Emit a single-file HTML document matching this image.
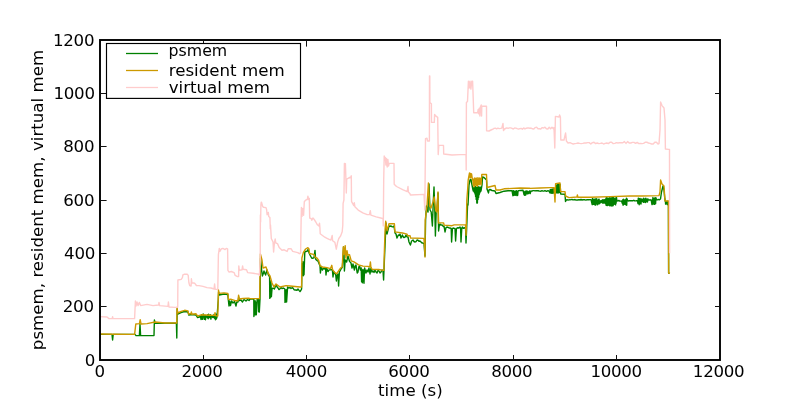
<!DOCTYPE html>
<html><head><meta charset="utf-8"><title>memory usage</title>
<style>html,body{margin:0;padding:0;background:#fff}svg{display:block}</style></head>
<body>
<svg width="800" height="400" viewBox="0 0 800 400">
<rect width="800" height="400" fill="#fff"/>
<g fill="none" stroke-linejoin="round" stroke-width="1.4">
<path stroke="#008000" d="M100.0 334.4 L112.0 334.4 L112.6 340.0 L113.2 334.4 L135.0 334.4 L136.0 335.6 L139.4 335.6 L140.0 324.0 L140.6 335.6 L154.0 335.6 L154.4 320.0 L155.0 323.0 L165.0 323.2 L176.0 323.2 L176.4 323.2 L176.8 338.0 L177.2 309.0 L177.8 314.0 L181.0 312.5 L184.6 311.5 L188.0 312.0 L188.8 315.0 L192.0 314.5 L196.0 315.0 L197.6 317.5 L200.5 316.5 L201.0 319.5 L201.4 314.8 L201.9 319.0 L202.3 316.3 L202.8 319.3 L203.2 313.9 L203.7 316.9 L204.1 315.4 L204.6 319.4 L205.0 315.4 L205.5 319.7 L205.9 315.4 L206.4 316.9 L206.8 316.4 L207.3 317.7 L207.7 314.6 L208.2 318.7 L208.6 314.3 L209.1 317.5 L209.5 315.4 L210.0 317.5 L210.4 314.8 L210.9 319.1 L211.3 316.2 L211.8 316.8 L212.2 316.4 L212.7 317.4 L213.1 316.3 L213.6 317.6 L214.0 314.5 L214.5 318.2 L214.9 314.9 L215.4 319.7 L215.8 313.9 L216.3 319.0 L217.0 317.0 L218.3 300.0 L218.6 292.0 L219.2 295.0 L224.0 294.0 L227.8 294.5 L228.4 300.5 L229.0 306.0 L229.6 301.0 L230.5 305.5 L231.5 301.0 L233.0 303.0 L234.5 301.5 L236.0 306.0 L236.8 302.0 L238.0 302.0 L238.7 297.0 L239.3 300.5 L241.0 300.0 L242.5 302.0 L244.0 299.5 L246.0 301.0 L247.5 299.5 L249.0 300.5 L250.0 299.0 L253.8 299.0 L253.9 316.5 L254.3 301.3 L254.7 314.7 L255.1 300.7 L255.5 314.7 L255.9 302.1 L256.3 314.7 L257.2 299.0 L258.4 299.0 L258.6 311.8 L259.0 299.9 L259.3 312.1 L260.0 299.0 L260.6 258.0 L261.6 270.0 L262.4 276.0 L263.2 273.8 L264.0 271.0 L264.8 273.2 L265.6 275.0 L267.0 270.0 L268.4 275.0 L269.6 277.0 L269.8 298.4 L270.2 280.6 L270.6 297.2 L271.0 282.6 L271.4 296.6 L272.0 289.0 L273.0 288.0 L274.4 289.0 L275.2 287.0 L276.0 285.0 L277.0 286.7 L278.0 288.0 L279.0 289.6 L280.0 288.8 L281.0 287.6 L282.0 288.6 L283.0 288.0 L283.9 288.3 L284.8 289.0 L285.0 302.4 L285.4 290.9 L285.8 301.7 L286.2 289.7 L286.6 302.0 L287.6 287.0 L288.8 288.0 L290.0 287.6 L291.0 288.5 L292.0 287.8 L293.0 288.0 L294.0 289.6 L295.0 290.0 L296.0 290.0 L297.0 290.4 L298.0 289.0 L299.0 290.4 L300.0 291.6 L300.8 290.5 L301.6 289.0 L301.9 271.1 L302.2 263.6 L302.6 272.1 L303.0 261.6 L303.3 275.8 L303.7 263.6 L304.0 274.8 L304.8 252.0 L305.9 251.5 L306.9 251.4 L308.0 249.6 L309.0 252.8 L310.0 255.0 L311.0 256.9 L312.0 258.4 L313.0 258.3 L314.0 257.6 L315.0 250.4 L315.6 259.0 L316.4 260.0 L317.2 260.6 L318.0 261.0 L319.0 263.4 L320.0 266.0 L320.4 273.0 L321.2 266.4 L322.4 270.0 L323.2 268.9 L324.0 268.0 L324.8 269.0 L325.6 268.4 L326.0 275.0 L326.8 268.4 L328.0 271.6 L329.0 270.0 L330.0 269.9 L331.0 269.6 L332.4 270.0 L333.0 277.0 L333.8 271.6 L334.7 273.7 L335.6 274.0 L336.4 281.0 L337.2 275.0 L338.0 274.0 L338.6 286.0 L339.4 272.0 L340.2 270.6 L341.0 269.0 L342.4 267.0 L343.6 247.0 L344.0 252.0 L344.4 271.0 L345.2 260.0 L346.6 262.0 L348.0 256.0 L349.4 261.0 L350.2 262.1 L351.0 263.0 L352.0 268.0 L353.0 264.0 L354.4 270.0 L355.2 266.0 L356.0 265.0 L357.2 273.0 L358.0 272.0 L358.8 267.0 L359.6 266.0 L360.4 270.0 L361.2 268.0 L361.6 281.8 L362.0 270.7 L362.4 282.7 L362.8 269.4 L363.2 281.5 L363.6 270.1 L364.0 283.2 L364.6 268.0 L366.0 273.0 L367.0 270.0 L368.0 272.0 L369.0 268.0 L370.0 274.0 L371.0 268.0 L372.0 272.0 L373.0 271.0 L374.0 272.4 L375.0 270.0 L376.0 272.0 L377.0 273.0 L378.0 270.4 L379.0 271.0 L380.0 273.0 L381.0 272.0 L382.0 270.0 L383.0 271.0 L383.6 280.0 L384.4 260.0 L386.0 223.0 L387.0 234.0 L388.0 230.0 L389.0 226.0 L389.8 226.4 L390.7 226.0 L391.5 226.2 L392.3 226.9 L393.2 226.9 L394.0 226.0 L395.0 233.0 L396.0 234.0 L397.0 238.0 L398.4 235.0 L399.2 235.3 L400.0 234.0 L401.0 238.0 L402.4 235.0 L403.2 236.9 L404.0 237.6 L405.0 237.2 L406.0 235.0 L407.0 236.9 L408.0 237.0 L409.0 242.0 L410.4 245.0 L411.6 241.0 L413.0 240.0 L414.0 241.5 L415.0 242.0 L416.0 241.7 L417.0 240.0 L418.0 240.2 L419.0 241.3 L420.0 241.0 L421.0 242.0 L422.0 243.0 L423.0 243.0 L424.0 243.6 L425.0 256.0 L425.6 220.0 L426.4 206.0 L428.0 212.0 L429.0 184.0 L430.0 210.0 L431.2 212.0 L432.4 226.0 L433.2 204.0 L434.0 187.0 L434.8 210.0 L435.4 236.0 L436.2 212.0 L437.0 210.0 L438.0 193.0 L438.6 231.0 L439.4 225.0 L440.0 224.0 L440.8 225.0 L441.6 224.9 L442.4 225.1 L443.2 226.5 L444.0 226.0 L445.0 232.0 L446.0 227.6 L447.0 227.0 L448.0 227.3 L449.0 228.0 L450.0 228.0 L451.2 228.4 L451.6 242.0 L452.4 229.0 L453.0 228.0 L454.0 228.4 L455.0 228.4 L455.6 241.0 L456.4 229.0 L457.0 228.0 L458.0 227.8 L459.0 228.0 L460.0 227.0 L460.6 228.0 L461.0 242.0 L461.8 228.0 L462.4 227.0 L463.3 228.3 L464.1 227.8 L465.0 228.0 L465.6 229.0 L466.0 243.0 L466.6 230.0 L467.6 204.0 L468.0 205.0 L469.0 185.0 L470.0 180.0 L471.0 179.5 L472.0 185.0 L473.0 190.0 L474.0 189.0 L475.0 190.0 L473.2 191.0 L473.5 187.9 L473.8 191.3 L474.1 187.7 L474.4 192.4 L474.7 187.0 L475.0 193.9 L475.3 186.5 L475.6 196.5 L475.9 187.3 L476.2 199.6 L476.5 187.8 L476.8 203.1 L477.1 186.9 L477.4 203.0 L477.7 187.4 L478.0 199.5 L478.3 186.7 L478.6 197.4 L478.9 187.2 L479.2 194.6 L479.5 187.1 L479.8 192.9 L480.1 187.3 L480.4 191.6 L480.7 187.2 L480.0 190.0 L481.0 191.0 L482.0 185.0 L482.5 177.0 L484.0 177.5 L485.0 178.5 L486.5 180.0 L487.0 189.0 L488.5 193.0 L489.0 190.0 L490.0 189.5 L492.0 190.5 L495.0 191.0 L496.0 193.5 L500.0 192.5 L504.0 191.2 L508.0 190.8 L512.0 190.6 L512.9 195.7 L513.2 190.6 L513.5 194.7 L513.8 190.9 L514.1 195.2 L514.4 191.8 L514.7 195.1 L515.0 191.1 L515.3 195.2 L515.6 191.5 L515.9 194.7 L516.2 190.8 L516.5 195.1 L516.8 191.0 L517.1 195.6 L517.4 191.9 L517.7 195.2 L518.0 191.5 L518.4 190.6 L523.0 190.2 L524.0 194.7 L524.3 191.9 L524.6 195.3 L524.9 191.4 L525.2 195.2 L525.5 191.3 L525.8 194.8 L526.6 191.0 L527.4 193.7 L527.8 191.2 L528.1 193.7 L528.5 191.9 L528.8 193.3 L529.2 191.8 L529.5 192.9 L529.9 190.7 L530.2 193.6 L530.6 191.9 L531.0 191.5 L531.6 191.0 L532.0 191.1 L533.0 190.6 L534.0 190.6 L535.0 190.9 L536.0 190.6 L537.0 190.7 L538.0 190.6 L539.0 191.0 L540.0 191.1 L541.0 191.2 L542.0 190.7 L543.0 191.1 L544.0 191.0 L545.0 190.7 L546.0 191.2 L547.0 191.2 L548.0 190.7 L549.0 191.2 L550.0 192.9 L550.3 189.5 L550.6 192.1 L550.9 190.0 L551.2 193.3 L551.5 189.4 L551.8 192.8 L552.1 189.3 L552.4 193.2 L552.7 189.2 L553.0 192.5 L553.3 188.8 L553.6 192.7 L553.9 189.4 L554.2 193.5 L554.5 189.3 L554.9 192.0 L555.6 192.5 L555.9 184.7 L556.2 192.9 L556.5 185.2 L556.8 192.3 L557.1 185.1 L557.4 192.9 L557.7 184.5 L558.0 193.0 L558.3 185.0 L558.6 192.8 L558.9 184.4 L559.2 192.6 L559.5 185.1 L559.8 192.3 L560.1 184.5 L560.7 194.0 L565.0 194.3 L565.5 201.5 L566.5 199.8 L567.0 199.6 L568.0 200.1 L569.0 199.8 L570.0 199.9 L571.0 199.6 L572.0 199.5 L573.0 199.9 L574.0 199.8 L575.0 199.5 L576.0 200.1 L577.0 199.9 L578.0 200.0 L579.0 199.6 L580.0 200.0 L581.0 199.5 L582.0 200.0 L583.0 199.8 L584.0 199.7 L585.0 199.8 L586.0 200.1 L587.0 199.7 L588.0 199.6 L589.0 199.8 L590.0 199.6 L591.0 199.6 L592.2 204.6 L592.5 198.4 L592.8 204.5 L593.1 199.0 L593.4 204.3 L593.7 200.1 L594.0 204.3 L594.3 199.5 L594.6 204.6 L594.9 199.1 L595.2 205.0 L595.5 198.9 L595.8 205.0 L596.1 200.0 L596.4 203.7 L596.7 198.7 L597.0 203.9 L597.3 200.5 L597.6 204.8 L597.9 200.2 L598.2 204.0 L598.5 199.5 L598.8 203.0 L599.1 199.2 L599.4 203.8 L599.9 202.2 L600.2 200.9 L600.6 202.7 L601.0 200.7 L601.3 202.1 L601.7 200.4 L602.0 202.6 L602.4 199.9 L602.7 203.1 L603.1 199.6 L603.4 203.1 L603.8 200.5 L604.1 202.8 L604.5 199.6 L604.8 203.1 L605.2 200.7 L605.5 203.6 L605.8 198.7 L606.1 205.2 L606.3 197.5 L606.6 205.2 L606.9 198.1 L607.2 205.6 L607.5 198.0 L607.7 205.3 L608.0 199.5 L608.3 203.3 L608.6 198.3 L608.9 205.3 L609.1 199.5 L609.4 205.1 L609.7 197.8 L610.0 206.0 L610.3 197.9 L610.5 204.7 L610.8 198.2 L611.1 205.4 L611.4 198.2 L611.7 206.0 L611.9 197.5 L612.2 205.8 L612.5 197.9 L612.8 205.9 L613.1 196.9 L613.3 205.2 L613.6 197.4 L613.9 204.4 L614.2 198.3 L614.5 203.9 L614.7 198.6 L615.0 204.0 L615.3 199.2 L615.6 204.9 L615.9 197.7 L616.1 203.3 L616.4 197.2 L617.0 201.0 L617.9 200.9 L618.8 200.4 L619.7 201.1 L620.6 201.1 L621.5 200.9 L622.5 203.8 L622.8 199.8 L623.1 205.2 L623.4 199.2 L623.7 204.4 L624.0 199.9 L624.3 203.7 L624.6 199.9 L624.9 204.2 L625.2 200.0 L625.5 204.0 L625.8 199.6 L626.1 205.0 L626.4 198.1 L626.7 205.2 L627.0 198.8 L627.5 200.4 L628.4 201.0 L629.3 200.7 L630.2 200.8 L631.1 200.8 L632.0 200.8 L632.9 200.7 L633.8 200.3 L634.7 200.9 L635.6 200.9 L636.5 200.7 L637.4 200.7 L638.0 203.6 L638.3 198.1 L638.6 203.5 L638.9 198.5 L639.2 204.8 L639.5 198.6 L639.8 203.5 L640.1 198.4 L640.4 203.4 L640.7 200.0 L641.0 204.0 L641.2 201.8 L641.6 198.9 L641.9 201.3 L642.3 199.4 L642.6 201.4 L643.0 199.2 L643.3 202.4 L643.7 198.3 L644.0 202.0 L644.4 199.3 L644.7 202.0 L645.1 199.0 L645.4 202.5 L645.8 198.1 L646.1 202.0 L646.5 199.2 L646.8 201.3 L647.2 199.2 L647.5 202.0 L647.9 198.9 L648.5 200.0 L649.4 200.0 L650.3 199.8 L651.2 200.2 L652.0 204.6 L652.3 199.7 L652.6 202.9 L652.9 197.5 L653.2 204.0 L653.5 199.3 L653.8 202.8 L654.1 198.5 L654.4 204.4 L654.7 198.0 L655.0 202.9 L655.3 198.0 L655.6 203.7 L655.9 197.8 L656.5 199.6 L657.4 199.9 L658.3 199.4 L659.2 199.8 L660.5 199.0 L661.5 192.0 L663.0 186.0 L664.0 190.0 L664.8 199.0 L665.5 202.0 L665.6 204.1 L665.9 202.2 L666.2 203.9 L666.5 201.5 L666.8 203.7 L667.1 201.8 L667.4 204.6 L667.7 201.3 L668.0 204.1 L668.4 204.0 L668.6 273.0 L669.5 273.3"/>
<path stroke="#cc9900" d="M100.0 334.0 L115.0 334.2 L134.6 334.4 L135.8 324.0 L139.4 323.6 L140.2 319.6 L141.0 324.0 L147.0 323.6 L155.0 322.0 L165.0 323.0 L176.0 323.0 L176.8 323.0 L177.0 307.5 L177.6 313.0 L181.2 311.4 L184.6 310.3 L188.0 310.9 L188.6 314.2 L191.0 313.5 L191.4 312.0 L191.8 314.2 L195.9 313.7 L197.6 316.0 L201.5 314.8 L210.0 315.2 L214.6 315.4 L215.0 312.6 L215.4 315.6 L217.8 316.0 L218.2 300.0 L218.5 290.0 L219.0 293.4 L224.0 292.9 L227.9 293.4 L228.5 299.6 L230.7 299.1 L235.2 300.7 L238.0 300.7 L238.6 295.1 L239.2 299.0 L243.0 298.5 L248.7 298.2 L250.0 298.6 L259.6 298.6 L260.4 254.0 L262.0 260.0 L263.0 268.0 L266.0 267.0 L268.0 273.0 L270.0 276.0 L272.0 283.0 L274.0 287.0 L276.0 284.0 L280.0 287.0 L286.0 285.6 L290.0 286.0 L300.0 287.0 L301.6 287.0 L301.9 258.0 L303.4 252.4 L305.6 249.0 L307.9 247.7 L309.0 249.0 L309.6 253.5 L312.4 254.1 L314.1 254.6 L315.2 257.4 L316.9 258.0 L318.6 260.2 L320.2 265.9 L322.5 267.0 L327.0 267.6 L330.4 268.7 L331.8 265.3 L332.6 269.8 L334.9 272.6 L336.6 273.8 L338.2 271.5 L340.5 268.1 L342.2 267.0 L343.3 246.8 L344.1 254.6 L345.2 245.6 L345.9 258.0 L347.0 250.7 L347.8 255.2 L349.5 254.6 L351.2 260.8 L354.0 261.9 L358.5 264.8 L363.0 266.1 L367.5 266.4 L369.8 266.8 L370.4 261.9 L370.9 267.0 L372.0 269.2 L378.8 269.5 L383.2 270.4 L383.9 270.4 L384.4 250.0 L385.1 229.6 L385.7 221.2 L387.0 230.7 L389.0 223.8 L394.4 223.8 L394.9 231.9 L402.5 233.0 L407.0 234.1 L407.6 235.8 L410.1 235.8 L410.6 238.0 L423.9 238.4 L424.4 244.0 L425.0 257.0 L425.2 220.0 L427.0 206.0 L428.4 183.0 L429.6 206.0 L431.0 208.0 L433.0 202.0 L434.2 197.0 L435.6 210.0 L436.6 212.0 L438.0 192.0 L438.4 223.0 L438.6 222.9 L443.6 222.9 L444.1 225.1 L452.0 225.7 L454.2 224.9 L465.5 224.9 L466.1 235.2 L466.8 200.0 L467.6 190.0 L468.2 180.0 L469.5 173.0 L469.8 173.9 L470.2 178.0 L470.6 173.4 L470.9 177.2 L471.2 173.6 L471.4 175.8 L471.6 174.0 L471.9 176.1 L472.5 180.0 L473.0 179.6 L473.2 184.9 L473.5 179.6 L473.9 186.5 L474.1 178.5 L474.4 186.6 L474.8 177.9 L475.0 184.1 L475.3 178.7 L475.6 184.2 L475.8 178.5 L476.0 185.4 L476.4 179.1 L476.8 185.5 L477.1 177.6 L477.5 186.2 L477.9 179.4 L478.2 184.7 L478.4 179.0 L478.6 183.5 L478.8 177.9 L479.0 183.4 L479.2 177.9 L479.4 184.6 L479.6 179.6 L479.9 183.8 L480.2 178.3 L480.5 183.7 L480.8 179.9 L481.1 185.0 L481.8 174.5 L486.5 174.5 L487.0 187.5 L495.0 185.5 L496.0 190.0 L500.0 190.0 L504.0 188.8 L520.0 188.0 L529.6 188.2 L530.0 188.4 L540.0 188.0 L550.0 187.6 L554.0 187.6 L555.0 202.0 L555.6 183.6 L560.0 183.0 L560.6 191.6 L565.0 191.6 L565.6 196.0 L569.0 197.6 L577.0 197.0 L577.4 195.0 L577.8 197.2 L590.0 197.2 L610.0 196.6 L630.0 196.0 L642.0 196.0 L659.0 195.6 L660.0 192.0 L660.6 180.0 L662.0 184.0 L664.0 186.0 L665.0 201.0 L668.4 201.0 L668.5 201.0 L668.7 273.0 L670.0 273.3"/>
<path stroke="#ffcccc" d="M100.0 316.6 L107.0 317.0 L109.0 318.6 L112.2 318.6 L112.6 316.6 L113.0 318.6 L134.6 318.6 L135.4 301.0 L136.0 306.0 L137.0 302.0 L138.0 305.6 L139.4 302.4 L140.6 305.6 L147.0 304.4 L153.0 305.6 L158.6 305.0 L159.0 302.4 L159.6 305.6 L168.0 306.4 L168.4 302.0 L169.0 307.0 L175.0 307.4 L176.6 307.4 L177.7 307.0 L177.9 280.0 L181.2 279.4 L182.4 277.7 L182.9 274.9 L184.1 274.3 L187.4 274.3 L188.2 275.4 L188.9 282.8 L189.7 285.5 L191.1 286.0 L191.4 278.8 L191.9 282.8 L194.8 283.3 L196.4 285.5 L199.0 285.6 L203.0 286.4 L207.0 287.6 L211.0 288.0 L214.0 289.0 L214.6 284.0 L215.2 289.4 L217.4 289.4 L217.8 289.0 L218.4 254.6 L219.3 248.4 L220.1 251.2 L221.2 249.0 L222.9 248.4 L225.1 249.6 L226.2 248.4 L227.6 249.0 L227.9 270.4 L229.1 272.1 L231.3 271.5 L234.1 272.6 L235.2 275.4 L237.5 276.6 L238.6 276.6 L238.8 265.9 L239.3 270.4 L242.0 269.8 L242.6 265.9 L243.1 269.2 L246.5 269.8 L247.6 272.6 L253.2 273.2 L258.9 274.3 L259.4 275.4 L260.2 260.0 L260.4 215.0 L260.6 222.0 L260.9 205.0 L261.2 202.3 L261.5 202.3 L262.6 206.2 L263.4 207.2 L266.0 207.6 L266.6 209.6 L267.1 214.7 L268.3 212.4 L268.7 216.4 L269.9 217.5 L270.3 228.8 L270.5 225.0 L271.3 238.5 L273.0 241.9 L273.6 252.0 L274.4 243.0 L275.2 239.0 L275.8 243.0 L277.5 243.6 L279.2 247.5 L282.0 250.3 L284.2 249.8 L287.1 251.4 L288.2 248.8 L291.0 248.6 L292.7 251.4 L297.8 252.6 L299.4 253.7 L300.6 253.1 L300.8 240.0 L301.1 222.0 L301.4 207.4 L302.0 216.4 L302.8 208.5 L303.6 215.2 L304.3 201.8 L305.6 200.1 L307.3 199.5 L307.9 196.1 L308.6 199.5 L309.3 198.4 L309.7 218.0 L311.2 218.6 L311.8 220.3 L312.9 218.0 L314.0 219.2 L315.8 222.0 L317.4 224.8 L318.9 225.9 L319.5 223.1 L319.9 227.6 L320.2 233.8 L322.5 235.5 L324.8 237.2 L327.0 238.3 L329.2 239.4 L330.9 240.0 L332.2 235.5 L332.6 240.8 L334.9 242.4 L336.3 249.2 L337.7 241.9 L338.8 238.5 L340.5 236.2 L342.2 231.8 L342.8 225.0 L343.1 203.4 L343.9 200.0 L344.4 163.4 L345.4 163.6 L345.9 179.2 L346.3 193.0 L346.7 179.2 L348.7 178.0 L350.9 177.0 L351.3 175.8 L351.5 200.0 L351.6 201.7 L353.8 205.6 L354.3 202.8 L354.9 206.8 L358.2 210.1 L362.8 212.9 L367.2 214.6 L369.5 214.6 L370.3 210.7 L370.9 215.2 L376.2 216.9 L380.8 218.0 L383.0 218.6 L383.3 225.9 L383.7 180.0 L384.2 156.0 L384.8 160.0 L385.3 157.5 L385.9 165.0 L386.5 158.5 L387.2 167.0 L387.9 159.5 L388.5 166.0 L389.2 163.4 L394.0 163.4 L394.2 184.2 L396.5 186.5 L403.2 189.9 L407.2 191.6 L408.0 186.5 L408.4 192.1 L410.0 193.8 L410.4 195.0 L424.0 194.4 L424.8 210.0 L425.3 160.0 L425.5 138.7 L427.0 138.2 L427.5 141.0 L429.4 141.0 L429.5 76.0 L429.8 76.0 L429.9 102.6 L431.4 103.8 L431.5 122.4 L434.3 122.4 L434.6 114.5 L436.0 116.2 L437.7 117.3 L438.2 154.6 L438.8 145.4 L443.5 145.4 L443.7 154.0 L452.0 155.0 L460.0 154.6 L466.0 154.4 L466.2 170.0 L466.4 102.6 L467.5 101.5 L468.4 81.2 L469.2 88.0 L470.0 81.2 L470.9 89.1 L471.8 81.2 L472.6 81.2 L473.4 103.8 L473.7 112.8 L477.6 112.8 L478.2 109.4 L478.8 113.9 L479.3 108.2 L479.9 116.0 L480.4 107.1 L481.2 104.9 L481.6 116.0 L481.8 106.0 L486.5 106.2 L486.6 130.8 L489.0 131.0 L491.0 130.0 L493.5 128.8 L494.0 128.4 L495.3 128.2 L496.6 128.8 L497.9 128.1 L499.2 128.6 L500.5 128.4 L501.8 128.1 L503.0 123.5 L503.5 130.5 L504.5 129.0 L505.5 128.5 L506.8 127.9 L508.1 128.4 L509.4 127.9 L510.7 127.9 L512.0 128.4 L513.3 129.0 L514.6 128.0 L515.9 128.1 L517.2 128.7 L518.5 129.1 L519.8 128.6 L521.1 128.4 L522.4 129.2 L523.7 127.9 L525.0 129.0 L526.3 128.2 L527.6 128.0 L528.9 128.0 L530.0 128.4 L531.0 128.0 L532.4 128.8 L533.8 129.0 L535.2 127.6 L536.6 127.2 L538.0 128.8 L539.4 128.8 L540.8 129.0 L542.2 127.6 L543.6 128.0 L545.0 127.2 L546.4 128.8 L547.8 129.0 L549.2 127.2 L550.6 128.8 L552.0 127.2 L553.4 128.8 L554.0 127.6 L554.8 148.0 L555.4 116.4 L559.0 117.0 L559.6 115.0 L560.4 117.0 L560.8 140.0 L564.0 140.0 L565.6 133.0 L566.4 141.0 L568.0 143.0 L570.0 142.6 L571.6 143.4 L573.2 144.0 L574.8 143.6 L576.4 143.4 L578.0 143.0 L579.6 143.4 L581.2 143.6 L582.8 143.4 L584.4 143.0 L586.0 143.0 L587.6 142.6 L589.2 142.6 L590.8 144.0 L592.4 142.6 L594.0 142.2 L595.6 143.6 L597.2 143.0 L598.8 143.6 L600.4 143.4 L602.0 143.0 L603.6 144.0 L605.2 143.4 L606.8 143.0 L608.4 143.6 L610.0 142.2 L611.6 142.2 L613.2 143.6 L614.8 143.4 L616.4 142.6 L618.0 143.0 L619.6 142.6 L621.2 142.8 L622.8 142.8 L624.4 141.6 L626.0 143.4 L627.6 141.6 L629.2 143.0 L630.8 143.0 L632.4 142.4 L634.0 142.4 L635.6 143.4 L637.2 142.4 L638.8 143.6 L640.4 143.4 L642.0 143.6 L643.6 143.4 L645.2 142.2 L646.8 142.2 L648.4 143.0 L650.0 143.4 L651.6 144.0 L653.2 144.0 L654.8 142.2 L656.4 142.2 L658.0 144.0 L659.0 143.6 L660.0 130.0 L660.6 102.0 L662.0 105.6 L664.0 108.0 L665.0 120.0 L665.4 149.0 L668.6 149.4 L669.5 149.5 L669.6 253.3"/>
</g>
<rect x="100" y="40" width="620" height="320" fill="none" stroke="#000" stroke-width="1.9"/>
<path d="M203.5 360v-5M203.5 40v6.6M100 306.5h6.6M720 306.5h-5M306.5 360v-5M306.5 40v6.6M100 253.5h6.6M720 253.5h-5M409.5 360v-5M409.5 40v6.6M100 200.5h6.6M720 200.5h-5M513.5 360v-5M513.5 40v6.6M100 146.5h6.6M720 146.5h-5M616.5 360v-5M616.5 40v6.6M100 93.5h6.6M720 93.5h-5" stroke="#111" stroke-width="1" fill="none"/>
<g font-family="'DejaVu Sans', 'Liberation Sans', sans-serif" font-size="16.67" fill="#000">
<text x="99.70" y="377.0" text-anchor="middle" letter-spacing="-0.3">0</text>
<text x="95.10" y="366.10" text-anchor="end" letter-spacing="-0.3">0</text>
<text x="202.03" y="377.0" text-anchor="middle" letter-spacing="-0.3">2000</text>
<text x="93.70" y="311.77" text-anchor="end" letter-spacing="-0.3">200</text>
<text x="306.37" y="377.0" text-anchor="middle" letter-spacing="-0.3">4000</text>
<text x="95.00" y="259.43" text-anchor="end" letter-spacing="-0.3">400</text>
<text x="408.90" y="377.0" text-anchor="middle" letter-spacing="-0.3">6000</text>
<text x="94.20" y="206.10" text-anchor="end" letter-spacing="-0.3">600</text>
<text x="511.83" y="377.0" text-anchor="middle" letter-spacing="-0.3">8000</text>
<text x="94.20" y="152.27" text-anchor="end" letter-spacing="-0.3">800</text>
<text x="616.17" y="377.0" text-anchor="middle" letter-spacing="-0.3">10000</text>
<text x="94.70" y="99.43" text-anchor="end" letter-spacing="-0.3">1000</text>
<text x="718.60" y="377.0" text-anchor="middle" letter-spacing="-0.3">12000</text>
<text x="94.20" y="46.10" text-anchor="end" letter-spacing="-0.3">1200</text>
<text x="410.4" y="395.7" text-anchor="middle">time (s)</text>
<text transform="translate(43.2 200) rotate(-90)" text-anchor="middle">psmem, resident mem, virtual mem</text>
<rect x="106.5" y="43.5" width="194" height="54.9" fill="#fff" stroke="#000" stroke-width="1.15"/>
<path d="M126 53.5h32" stroke="#008000" stroke-width="1.3"/>
<path d="M126 70.5h32" stroke="#cc9900" stroke-width="1.3"/>
<path d="M126 87.5h32" stroke="#ffcccc" stroke-width="1.3"/>
<text x="168.6" y="55.9" textLength="58.6" lengthAdjust="spacingAndGlyphs">psmem</text>
<text x="168.7" y="76.0">resident mem</text>
<text x="168.7" y="93.0">virtual mem</text>
</g>
</svg>
</body></html>
